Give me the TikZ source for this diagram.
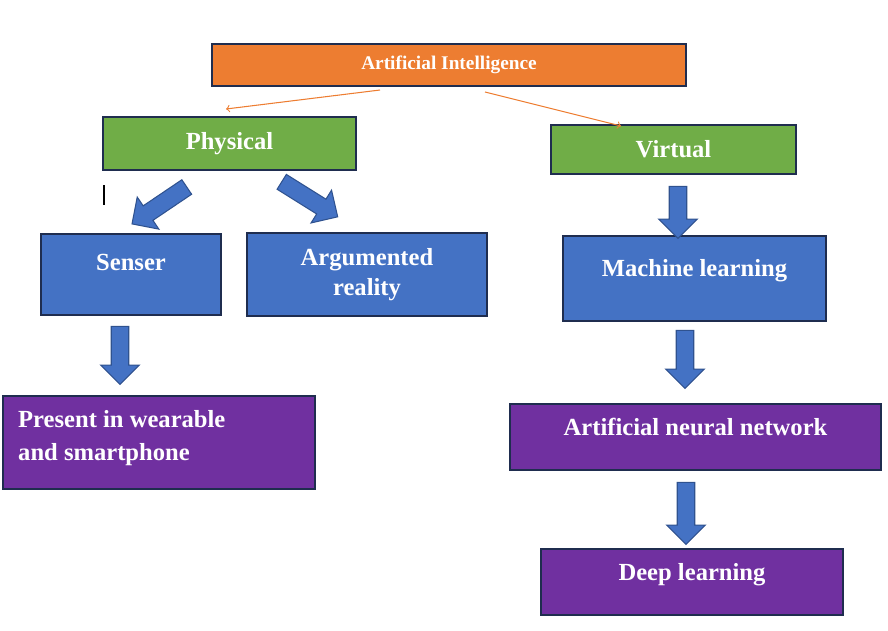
\documentclass[tikz,border=0pt]{standalone}
\usepackage{fontspec}
\setmainfont{Liberation Serif}
\usetikzlibrary{positioning, shapes.arrows}

\definecolor{aiorange}{HTML}{ED7D31}
\definecolor{physgreen}{HTML}{70AD47}
\definecolor{boxblue}{HTML}{4472C4}
\definecolor{boxpurple}{HTML}{7030A0}
\definecolor{edgeblue}{HTML}{1F2D4F}
\definecolor{arrowedge}{HTML}{2F528F}

\tikzset{
  box/.style={draw=edgeblue, line width=0.8pt, text=white, font=\bfseries\fontsize{14}{17}\selectfont, inner sep=0pt},
  fat/.style={single arrow, draw=arrowedge, fill=boxblue, line width=0.6pt, minimum width=22pt, single arrow head extend=4pt, single arrow head indent=0pt, inner sep=3pt, anchor=center}
}

\begin{document}
\begin{tikzpicture}[x=0.02cm, y=-0.02cm]

\useasboundingbox (0,0) rectangle (888,630);

% top level
\node [box, fill=aiorange, minimum width=474*0.02cm, minimum height=42*0.02cm, font=\bfseries\fontsize{11}{13}\selectfont] (ai) at (449,65) {Artificial Intelligence};

\node [box, fill=physgreen, minimum width=253*0.02cm, minimum height=53*0.02cm] (phys) at (229.5,143.5) {Physical};
\node [box, fill=physgreen, minimum width=245*0.02cm, minimum height=49*0.02cm] (virt) at (673.5,149.5) {Virtual};

\draw [->, aiorange, line width=0.6pt] (380,90) -- (226,109);
\draw [->, aiorange, line width=0.6pt] (485,92) -- (621,126);

% physical side
\node [box, fill=boxblue, minimum width=180*0.02cm, minimum height=81*0.02cm] (senser) at (131,274.5) {\raisebox{14pt}{Senser}};
\node [box, fill=boxblue, minimum width=240*0.02cm, minimum height=83*0.02cm, align=center] (ar) at (367,274.5) {Argumented\\reality};
\node [box, fill=boxpurple, minimum width=312*0.02cm, minimum height=93*0.02cm] (wear) at (159,442.5) {};
\node [text=white, font=\bfseries\fontsize{14}{19}\selectfont, align=left, anchor=north west] (weartext) at (12,404) {Present in wearable\\and smartphone};

\draw [black, line width=0.8pt] (104,185) -- (104,205);

\node [fat, minimum height=66*0.02cm, rotate=-146] (a1) at (163,203) {};
\node [fat, minimum height=66*0.02cm, rotate=-32] (a2) at (306,197) {};
\node [fat, minimum height=58*0.02cm, rotate=-90] (a3) at (120,351) {};

% virtual side
\node [box, fill=boxblue, minimum width=263*0.02cm, minimum height=85*0.02cm] (ml) at (694.5,278.5) {\raisebox{12pt}{Machine learning}};
\node [box, fill=boxpurple, minimum width=371*0.02cm, minimum height=66*0.02cm] (ann) at (695.5,437) {\raisebox{12pt}{Artificial neural network}};
\node [box, fill=boxpurple, minimum width=302*0.02cm, minimum height=66*0.02cm] (deep) at (692,582) {\raisebox{12pt}{Deep learning}};

\node [fat, minimum height=52*0.02cm, rotate=-90] (a4) at (678,208) {};
\node [fat, minimum height=58*0.02cm, rotate=-90] (a5) at (685,355) {};
\node [fat, minimum height=62*0.02cm, rotate=-90] (a6) at (686,509) {};

\end{tikzpicture}
\end{document}
